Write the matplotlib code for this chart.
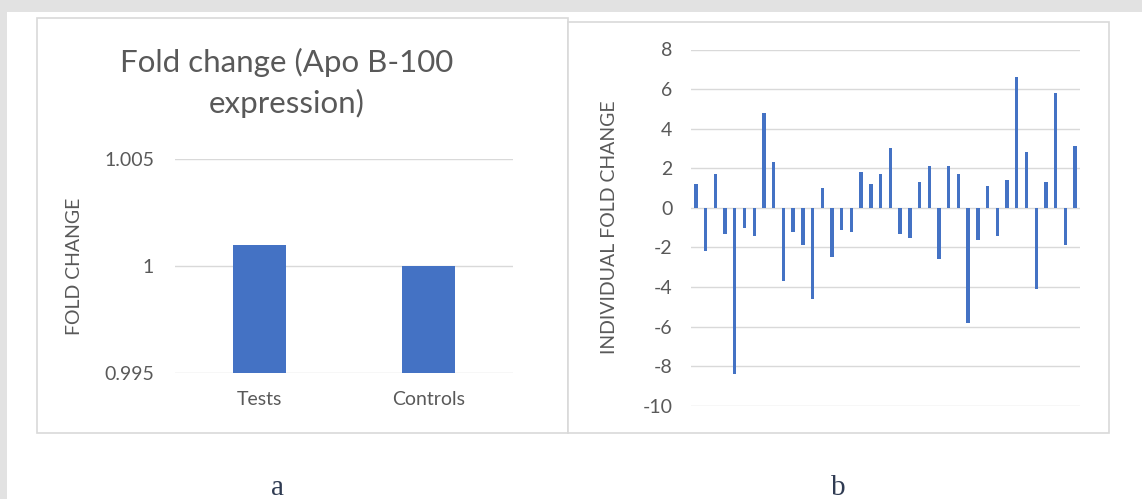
import matplotlib
matplotlib.use("Agg")
import matplotlib.pyplot as plt
from matplotlib.patches import Rectangle
import numpy as np

plt.rcParams['font.family'] = ['Lato', 'DejaVu Sans']
plt.rcParams['axes.unicode_minus'] = False

# panel a
groups = ["Tests", "Controls"]
group_fold = [1.001, 1.000]

# panel b: one bar per individual
individual_fold = [1.2, -2.2, 1.7, -1.3, -8.4, -1.0, -1.4, 4.8, 2.3, -3.7,
                   -1.2, -1.9, -4.6, 1.0, -2.5, -1.1, -1.2, 1.8, 1.2, 1.7,
                   3.0, -1.3, -1.5, 1.3, 2.1, -2.6, 2.1, 1.7, -5.8, -1.6,
                   1.1, -1.4, 1.4, 6.6, 2.8, -4.1, 1.3, 5.8, -1.9, 3.1]

W, H = 1142, 499
BLUE = "#4472c4"
GRID = "#d9d9d9"
TXT = "#595959"
FS = 14

fig = plt.figure(figsize=(W / 100, H / 100), dpi=100)


def px_axes(x0, y0, x1, y1):
    return fig.add_axes([x0 / W, 1 - y1 / H, (x1 - x0) / W, (y1 - y0) / H])


def px_rect(x0, y0, x1, y1, **kw):
    fig.add_artist(Rectangle((x0 / W, 1 - y1 / H), (x1 - x0) / W, (y1 - y0) / H,
                             transform=fig.transFigure, zorder=-5, **kw))


# gray page strips and the two chart frames
px_rect(0, 0, W, 12, facecolor="#e2e2e2", edgecolor="none")
px_rect(0, 0, 7, H, facecolor="#e2e2e2", edgecolor="none")
px_rect(37, 18, 568, 433, facecolor="white", edgecolor="#d9d9d9", linewidth=1.2)
px_rect(568, 22, 1109, 433, facecolor="white", edgecolor="#d9d9d9", linewidth=1.2)


def style(ax):
    for s in ax.spines.values():
        s.set_visible(False)
    ax.set_facecolor("none")
    ax.tick_params(length=0, colors=TXT, labelsize=FS)
    ax.yaxis.grid(True, color=GRID, linewidth=1)
    ax.set_axisbelow(True)


# ---- panel a ----
ax1 = px_axes(175, 159, 513, 373)
style(ax1)
x = np.arange(len(groups))
ax1.bar(x, np.array(group_fold) - 0.995, bottom=0.995, width=0.31, color=BLUE)
ax1.set_xlim(-0.5, 1.5)
ax1.set_ylim(0.995, 1.005)
ax1.set_yticks([0.995, 1.0, 1.005])
ax1.set_yticklabels(["0.995", "1", "1.005"])
ax1.set_xticks(x)
ax1.set_xticklabels(groups)
ax1.tick_params(axis="y", pad=15)
ax1.tick_params(axis="x", pad=13)
ax1.set_ylabel("FOLD CHANGE", color=TXT, fontsize=FS)
ax1.yaxis.set_label_coords(-0.272, 0.5)
fig.text(287 / W, 1 - 83 / H, "Fold change (Apo B-100\nexpression)", ha="center", va="center",
         fontsize=22.5, color=TXT, linespacing=1.5)

# ---- panel b ----
ax2 = px_axes(691, 49.5, 1080, 405.8)
style(ax2)
xi = np.arange(len(individual_fold))
ax2.bar(xi, individual_fold, width=0.35, color=BLUE)
ax2.set_xlim(-0.5, len(individual_fold) - 0.5)
ax2.set_ylim(-10, 8)
ax2.set_yticks(np.arange(-10, 9, 2))
ax2.set_xticks([])
ax2.tick_params(axis="y", pad=13.5)
ax2.set_ylabel("INDIVIDUAL FOLD CHANGE", color=TXT, fontsize=FS)
ax2.yaxis.set_label_coords(-0.188, 0.5)

# panel letters
fig.text(277 / W, 1 - 495 / H, "a", ha="center", va="baseline", fontsize=21,
         color="#2f3b52", family="Liberation Serif")
fig.text(838 / W, 1 - 495 / H, "b", ha="center", va="baseline", fontsize=21,
         color="#2f3b52", family="Liberation Serif")

fig.savefig("out.png", dpi=100)
